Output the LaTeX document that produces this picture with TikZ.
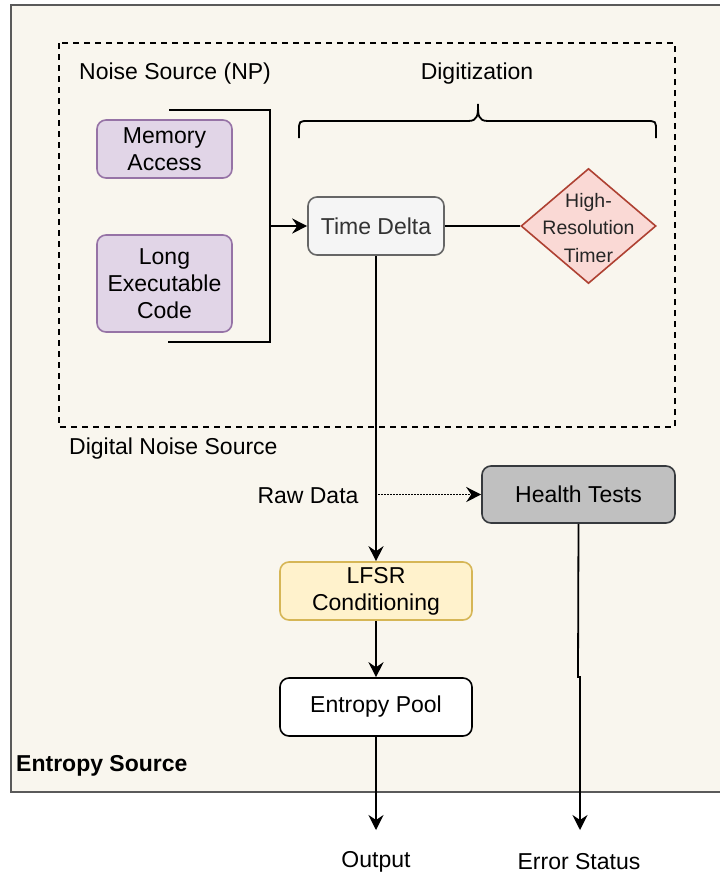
\documentclass[tikz,border=0pt]{standalone}
\usepackage{fontspec}
\setmainfont{Liberation Sans}
\usetikzlibrary{arrows.meta,shapes.geometric}
\definecolor{bgc}{HTML}{F9F6EE}
\definecolor{outerc}{HTML}{5A5A5A}
\definecolor{purf}{HTML}{E1D5E7}
\definecolor{purs}{HTML}{9673A6}
\definecolor{grf}{HTML}{F5F5F5}
\definecolor{grs}{HTML}{666666}
\definecolor{grt}{HTML}{333333}
\definecolor{redf}{HTML}{FAD9D5}
\definecolor{reds}{HTML}{AE4132}
\definecolor{htf}{HTML}{C0C0C0}
\definecolor{hts}{HTML}{36393D}
\definecolor{yelf}{HTML}{FFF2CC}
\definecolor{yels}{HTML}{D6B656}
\tikzset{
  fnt/.style={font=\fontsize{23}{27}\selectfont},
  boxbase/.style={draw, line width=1.6pt, rounded corners=9pt, align=center, fnt, inner sep=0pt},
  purbox/.style={boxbase, fill=purf, draw=purs, minimum width=135pt},
  lbl/.style={fnt, inner sep=0pt},
  tip/.style={-{Stealth[length=15pt,width=15pt,inset=5pt]}},
  arr/.style={line width=1.8pt, tip},
  ln/.style={line width=1.8pt},
}
\begin{document}
\begin{tikzpicture}[x=1pt,y=-1pt]
\useasboundingbox (0,0) rectangle (720,873);
\fill[white] (0,0) rectangle (720,873);
% outer entropy source box
\fill[bgc] (11,5) rectangle (720,792);
\draw[outerc, line width=2pt] (720,5) -- (11,5) -- (11,792) -- (720,792);
% dashed digital noise source box
\draw[line width=1.6pt, dash pattern=on 6pt off 5pt] (59,43) rectangle (675,427);

% labels
\node[lbl, anchor=west] (nslbl) at (79,73.5) {Noise Source (NP)};
\node[lbl] (diglbl) at (477,73.5) {Digitization};
\node[lbl, anchor=west] (dnslbl) at (69,448.5) {Digital Noise Source};
\node[lbl] (rawlbl) at (308,495.5) {Raw Data};
\node[lbl, anchor=west, font=\bfseries\fontsize{23}{27}\selectfont] (eslbl) at (16,765.5) {Entropy Source};
\node[lbl] (outlbl) at (376,861.5) {Output};
\node[lbl] (errlbl) at (579,861.5) {Error Status};

% nodes
\node[purbox, minimum height=58pt] (mem) at (164.5,149) {Memory\\Access};
\node[purbox, minimum height=97pt] (lec) at (164.5,283.5) {Long\\Executable\\Code};
\node[boxbase, fill=grf, draw=grs, text=grt, minimum width=136pt, minimum height=58pt] (td) at (376,226) {Time Delta};
\node[diamond, draw=reds, fill=redf, line width=1.6pt, minimum width=135pt, minimum height=115pt, inner sep=0pt, aspect=1.17] (timer) at (588.5,226) {};
\node[align=center, font=\fontsize{19.5}{27.5}\selectfont, inner sep=0pt, text=black!85] (timertxt) at (588.5,228) {High-\\Resolution\\Timer};
\node[boxbase, fill=htf, draw=hts, minimum width=193pt, minimum height=57pt] (ht) at (578.5,494.5) {Health Tests};
\node[boxbase, fill=yelf, draw=yels, minimum width=192pt, minimum height=58pt] (lfsr) at (376,591) {LFSR\\Conditioning};
\node[boxbase, fill=white, draw=black, minimum width=192pt, minimum height=58pt] (pool) at (376,707) {Entropy Pool};

% bracket joining the noise sources
\coordinate (bt) at (169,110);
\coordinate (btr) at (270,110);
\coordinate (bbr) at (270,342);
\coordinate (bb) at (168,342);
\coordinate (bmid) at (270,226);
\draw[ln] (bt) -- (btr) -- (bbr) -- (bb);
\draw[arr] (bmid) -- (td.west);

% curly brace
\draw[ln] (299,138) -- (299,131) .. controls (299,121) .. (309,121) -- (468,121)
  .. controls (478,121) and (478,115) .. (478,104)
  .. controls (478,115) and (478,121) .. (488,121) -- (646,121)
  .. controls (656,121) .. (656,131) -- (656,138);

% connectors
\draw[ln] (td.east) -- (timer.west);
\draw[arr] (td.south) -- (lfsr.north);
\coordinate (rawstart) at (378,494.5);
\draw[line width=1.6pt, dash pattern=on 1.6pt off 1.4pt, tip] (rawstart) -- (ht.west);
\draw[arr] (lfsr.south) -- (pool.north);
\coordinate (outend) at (376,830);
\draw[arr] (pool.south) -- (outend);
\coordinate (jog1) at (578,677);
\coordinate (jog2) at (580,677);
\coordinate (errend) at (580,830);
\draw[arr] (ht.south) -- (jog1) -- (jog2) -- (errend);
\end{tikzpicture}
\end{document}
